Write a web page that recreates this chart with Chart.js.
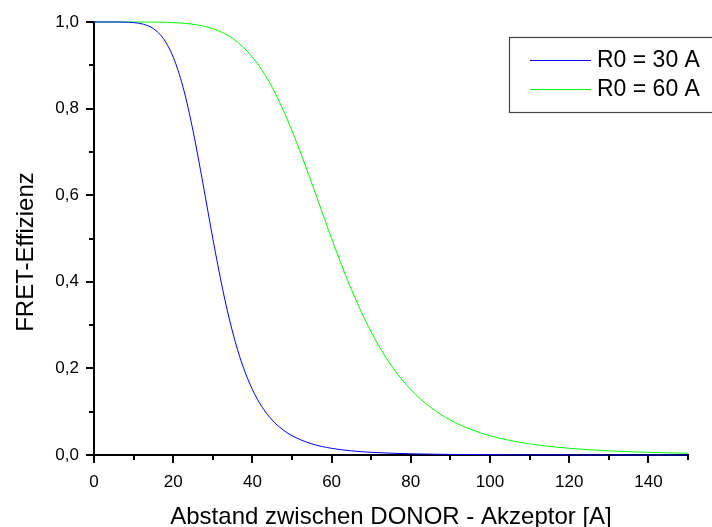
<!DOCTYPE html>
<html><head><meta charset="utf-8">
<script src="https://cdn.jsdelivr.net/npm/chart.js@4/dist/chart.umd.min.js"></script>
<style>html,body{margin:0;padding:0;background:#fff}canvas{display:block}</style>
</head><body>
<canvas id="c" width="712" height="527"></canvas>
<script>
// Distances [A] and FRET efficiency
const seriesLabels = ['R0 = 30 A', 'R0 = 60 A'];
const xBlue = [0,2.5,5,7.5,10,12.5,15,17.5,20,22.5,25,27.5,30,32.5,35,37.5,40,42.5,45,47.5,50,55,60,65,70,80,90,100,110,120,130,140,150];
const yBlue = [1,1,1,0.9998,0.9986,0.9948,0.9846,0.9621,0.919,0.849,0.749,0.6276,0.5,0.3822,0.284,0.2077,0.1511,0.1101,0.0807,0.0597,0.0446,0.0257,0.0154,0.0096,0.0062,0.0028,0.0014,0.0007,0.0004,0.0002,0.00015,0.0001,0.00006];
const xGreen = [0,5,10,15,20,25,30,35,40,45,50,55,60,65,70,75,80,85,90,95,100,105,110,115,120,125,130,135,140,145,150];
const yGreen = [1,1,1,0.9998,0.9986,0.9948,0.9846,0.9621,0.919,0.849,0.749,0.6276,0.5,0.3822,0.284,0.2077,0.1511,0.1101,0.0807,0.0597,0.0446,0.0336,0.0257,0.0198,0.0154,0.0121,0.0096,0.0077,0.0062,0.005,0.0041];
const xTicks = [0,20,40,60,80,100,120,140];
const xMinorTicks = [10,30,50,70,90,110,130,150];
const yTicks = [0,0.2,0.4,0.6,0.8,1.0];
const yMinorTicks = [0.1,0.3,0.5,0.7,0.9];
const xTitle = 'Abstand zwischen DONOR - Akzeptor [A]';
const yTitle = 'FRET-Effizienz';
const colors = ['#0000ff', '#00ff00'];

const FONT = '"Liberation Sans", Arial, sans-serif';

const decorPlugin = {
  id: 'decor',
  afterDraw(chart) {
    const ctx = chart.ctx, xs = chart.scales.x, ys = chart.scales.y;
    ctx.save();
    // minor ticks
    ctx.strokeStyle = '#000';
    ctx.lineWidth = 2;
    ctx.beginPath();
    xMinorTicks.forEach(v => {
      const px = Math.round(xs.getPixelForValue(v));
      ctx.moveTo(px, ys.bottom); ctx.lineTo(px, ys.bottom + 5);
    });
    yMinorTicks.forEach(v => {
      const py = Math.round(ys.getPixelForValue(v));
      ctx.moveTo(xs.left, py); ctx.lineTo(xs.left - 5, py);
    });
    ctx.stroke();
    // axis titles
    ctx.fillStyle = '#000';
    ctx.font = '24px ' + FONT;
    ctx.textAlign = 'center';
    ctx.textBaseline = 'alphabetic';
    ctx.fillText(xTitle, (xs.left + xs.right) / 2, 524);
    ctx.save();
    ctx.translate(33, 252);
    ctx.rotate(-Math.PI / 2);
    ctx.fillText(yTitle, 0, 0);
    ctx.restore();
    // legend
    ctx.strokeStyle = '#444';
    ctx.lineWidth = 1.2;
    ctx.strokeRect(509.5, 37.5, 210, 75);
    ctx.font = '23px ' + FONT;
    ctx.textAlign = 'left';
    ctx.textBaseline = 'middle';
    chart.data.datasets.forEach((ds, i) => {
      const y = 60 + i * 29;
      ctx.strokeStyle = ds.borderColor;
      ctx.lineWidth = 1;
      ctx.beginPath();
      ctx.moveTo(530, y + 0.5); ctx.lineTo(591, y + 0.5);
      ctx.stroke();
      ctx.fillStyle = '#000';
      ctx.fillText(ds.label, 597, y + 1);
    });
    ctx.restore();
  }
};

const fmt = v => Number(v).toFixed(1).replace('.', ',');

new Chart(document.getElementById('c'), {
  type: 'line',
  data: {
    datasets: [
      { label: seriesLabels[0], data: xBlue.map((x, i) => ({x, y: yBlue[i]})), borderColor: colors[0], borderWidth: 1, pointRadius: 0, cubicInterpolationMode: 'monotone', clip: false },
      { label: seriesLabels[1], data: xGreen.map((x, i) => ({x, y: yGreen[i]})), borderColor: colors[1], borderWidth: 1, pointRadius: 0, cubicInterpolationMode: 'monotone', clip: false }
    ]
  },
  options: {
    responsive: false,
    animation: false,
    layout: { padding: { left: 0, right: 24, top: 22, bottom: 0 } },
    plugins: { legend: { display: false }, tooltip: { enabled: false } },
    scales: {
      x: {
        type: 'linear', min: 0, max: 150,
        afterBuildTicks: s => { s.ticks = xTicks.map(v => ({value: v})); },
        afterFit: s => { s.height = 72; },
        border: { display: true, color: '#000', width: 2 },
        grid: { display: true, drawOnChartArea: false, drawTicks: true, tickLength: 8, color: '#000', lineWidth: 2 },
        ticks: { color: '#000', font: { family: FONT, size: 17 }, padding: 9, maxRotation: 0, callback: v => String(v) },
        title: { display: false }
      },
      y: {
        type: 'linear', min: 0, max: 1.0,
        afterBuildTicks: s => { s.ticks = yTicks.map(v => ({value: v})); },
        afterFit: s => { s.width = 94; },
        border: { display: true, color: '#000', width: 2 },
        grid: { display: true, drawOnChartArea: false, drawTicks: true, tickLength: 8, color: '#000', lineWidth: 2 },
        ticks: { color: '#000', font: { family: FONT, size: 17 }, padding: 7, callback: v => fmt(v) },
        title: { display: false }
      }
    }
  },
  plugins: [decorPlugin]
});
</script>
</body></html>
